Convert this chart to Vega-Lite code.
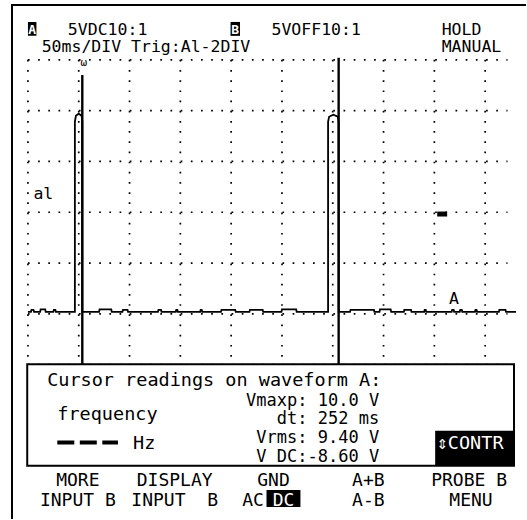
{
  "$schema": "https://vega.github.io/schema/vega-lite/v6.json",
  "width": 527,
  "height": 520,
  "autosize": {"type": "fit", "contains": "padding"},
  "padding": 0,
  "background": "white",
  "config": {"view": {"stroke": null}},
  "datasets": {
    "gridRows": [
      {"t": 0, "t2": 472, "v": -5, "v2": -5},
      {"t": 0, "t2": 472, "v": 0, "v2": 0},
      {"t": 0, "t2": 472, "v": 5, "v2": 5},
      {"t": 0, "t2": 472, "v": 10, "v2": 10},
      {"t": 0, "t2": 472, "v": 15, "v2": 15},
      {"t": 0, "t2": 472, "v": 20, "v2": 20},
      {"t": 0, "t2": 472, "v": 25, "v2": 25}
    ],
    "gridCols": [
      {"t": 0, "t2": 0, "v": 25, "v2": -5.1},
      {"t": 50, "t2": 50, "v": 25, "v2": -5.1},
      {"t": 100, "t2": 100, "v": 25, "v2": -5.1},
      {"t": 150, "t2": 150, "v": 25, "v2": -5.1},
      {"t": 200, "t2": 200, "v": 25, "v2": -5.1},
      {"t": 250, "t2": 250, "v": 25, "v2": -5.1},
      {"t": 300, "t2": 300, "v": 25, "v2": -5.1},
      {"t": 350, "t2": 350, "v": 25, "v2": -5.1},
      {"t": 400, "t2": 400, "v": 25, "v2": -5.1},
      {"t": 450, "t2": 450, "v": 25, "v2": -5.1}
    ],
    "panel": [
      {"t": -0.7, "t2": 478.4, "v": -4.96, "v2": -14.95}
    ],
    "borders": [
      {"t": -15.7, "t2": -15.7, "v": 30.5, "v2": -20.19},
      {"t": -16.7, "t2": 490.2, "v": 30.4, "v2": 30.4}
    ],
    "trace": [
      {"i": 0, "t": 0, "v": 0.2},
      {"i": 1, "t": 3, "v": 0.2},
      {"i": 2, "t": 3.5, "v": 0.4},
      {"i": 3, "t": 5.5, "v": 0.4},
      {"i": 4, "t": 6, "v": 0.2},
      {"i": 5, "t": 12, "v": 0.2},
      {"i": 6, "t": 12.5, "v": 0.45},
      {"i": 7, "t": 17, "v": 0.45},
      {"i": 8, "t": 17.5, "v": 0.2},
      {"i": 9, "t": 25, "v": 0.2},
      {"i": 10, "t": 25.5, "v": 0.4},
      {"i": 11, "t": 27, "v": 0.4},
      {"i": 12, "t": 27.5, "v": 0.2},
      {"i": 13, "t": 46.2, "v": 0.2},
      {"i": 14, "t": 46.2, "v": 18.9},
      {"i": 15, "t": 47.2, "v": 19.5},
      {"i": 16, "t": 50, "v": 19.7},
      {"i": 17, "t": 52.8, "v": 19.5},
      {"i": 18, "t": 53.5, "v": 18.9},
      {"i": 19, "t": 53.5, "v": 0.2},
      {"i": 20, "t": 70, "v": 0.2},
      {"i": 21, "t": 70.5, "v": 0.45},
      {"i": 22, "t": 82, "v": 0.45},
      {"i": 23, "t": 82.5, "v": 0.2},
      {"i": 24, "t": 93, "v": 0.2},
      {"i": 25, "t": 93.5, "v": 0.4},
      {"i": 26, "t": 98, "v": 0.4},
      {"i": 27, "t": 98.5, "v": 0.2},
      {"i": 28, "t": 128, "v": 0.2},
      {"i": 29, "t": 128.5, "v": 0.4},
      {"i": 30, "t": 131, "v": 0.4},
      {"i": 31, "t": 131.5, "v": 0.2},
      {"i": 32, "t": 145.5, "v": 0.2},
      {"i": 33, "t": 146, "v": 0.4},
      {"i": 34, "t": 147, "v": 0.4},
      {"i": 35, "t": 147.5, "v": 0.2},
      {"i": 36, "t": 169.5, "v": 0.2},
      {"i": 37, "t": 170, "v": 0.4},
      {"i": 38, "t": 171, "v": 0.4},
      {"i": 39, "t": 171.5, "v": 0.2},
      {"i": 40, "t": 190, "v": 0.2},
      {"i": 41, "t": 190.5, "v": 0.4},
      {"i": 42, "t": 204, "v": 0.4},
      {"i": 43, "t": 204.5, "v": 0.2},
      {"i": 44, "t": 218, "v": 0.2},
      {"i": 45, "t": 218.5, "v": 0.4},
      {"i": 46, "t": 231, "v": 0.4},
      {"i": 47, "t": 231.5, "v": 0.2},
      {"i": 48, "t": 249.5, "v": 0.2},
      {"i": 49, "t": 250, "v": 0.45},
      {"i": 50, "t": 264, "v": 0.45},
      {"i": 51, "t": 264.5, "v": 0.2},
      {"i": 52, "t": 295.4, "v": 0.2},
      {"i": 53, "t": 295.4, "v": 18.9},
      {"i": 54, "t": 296.4, "v": 19.4},
      {"i": 55, "t": 300.5, "v": 19.6},
      {"i": 56, "t": 305, "v": 19.4},
      {"i": 57, "t": 305.8, "v": 18.9},
      {"i": 58, "t": 305.8, "v": 0.2},
      {"i": 59, "t": 317, "v": 0.2},
      {"i": 60, "t": 317.5, "v": 0.4},
      {"i": 61, "t": 340.5, "v": 0.4},
      {"i": 62, "t": 341, "v": 0.2},
      {"i": 63, "t": 346, "v": 0.2},
      {"i": 64, "t": 346.5, "v": 0.45},
      {"i": 65, "t": 357, "v": 0.45},
      {"i": 66, "t": 357.5, "v": 0.2},
      {"i": 67, "t": 370, "v": 0.2},
      {"i": 68, "t": 370.5, "v": 0.4},
      {"i": 69, "t": 377, "v": 0.4},
      {"i": 70, "t": 377.5, "v": 0.2},
      {"i": 71, "t": 390, "v": 0.2},
      {"i": 72, "t": 390.5, "v": 0.4},
      {"i": 73, "t": 391.5, "v": 0.4},
      {"i": 74, "t": 392, "v": 0.2},
      {"i": 75, "t": 417, "v": 0.2},
      {"i": 76, "t": 417.5, "v": 0.4},
      {"i": 77, "t": 419, "v": 0.4},
      {"i": 78, "t": 419.5, "v": 0.2},
      {"i": 79, "t": 425, "v": 0.2},
      {"i": 80, "t": 425.5, "v": 0.4},
      {"i": 81, "t": 427, "v": 0.4},
      {"i": 82, "t": 427.5, "v": 0.2},
      {"i": 83, "t": 440, "v": 0.2},
      {"i": 84, "t": 440.5, "v": 0.4},
      {"i": 85, "t": 441.5, "v": 0.4},
      {"i": 86, "t": 442, "v": 0.2},
      {"i": 87, "t": 463.5, "v": 0.2},
      {"i": 88, "t": 464, "v": 0.4},
      {"i": 89, "t": 470, "v": 0.4},
      {"i": 90, "t": 470.5, "v": 0.2},
      {"i": 91, "t": 480.4, "v": 0.2}
    ],
    "cursors": [
      {"t": 53.5, "t2": 53.5, "v": 23.5, "v2": -4.96},
      {"t": 305.8, "t2": 305.8, "v": 25.2, "v2": -4.96}
    ],
    "noFreq": [
      {"t": 28.9, "t2": 88.6, "v": -12.65, "v2": -12.65}
    ],
    "blackBoxes": [
      {"t": 0, "t2": 8.35, "v": 28.73, "v2": 27.36},
      {"t": 199.4, "t2": 208.7, "v": 28.73, "v2": 27.36},
      {"t": 400.8, "t2": 478.4, "v": -11.51, "v2": -14.95},
      {"t": 234.8, "t2": 268.2, "v": -17.34, "v2": -19.0},
      {"t": 402.8, "t2": 412.6, "v": 10.07, "v2": 9.58}
    ],
    "header": [
      {"t": 39.3, "v": 27.47, "label": "5VDC10:1"},
      {"t": 239.7, "v": 27.47, "label": "5VOFF10:1"},
      {"t": 407.2, "v": 27.47, "label": "HOLD"},
      {"t": 13.5, "v": 25.73, "label": "50ms/DIV Trig:Al-2DIV"},
      {"t": 407.2, "v": 25.73, "label": "MANUAL"},
      {"t": 5.4, "v": 11.35, "label": "al"},
      {"t": 414.5, "v": 0.93, "label": "A"}
    ],
    "bigLabels": [
      {"t": 18.9, "v": -7.09, "label": "Cursor readings on waveform A:"},
      {"t": 28.9, "v": -10.41, "label": "frequency"},
      {"t": 103.5, "v": -13.31, "label": "Hz"}
    ],
    "readings": [
      {"t": 214.7, "v": -9.06, "label": "Vmaxp: 10.0 V"},
      {"t": 244.9, "v": -10.85, "label": "dt: 252 ms"},
      {"t": 224.8, "v": -12.72, "label": "Vrms: 9.40 V"},
      {"t": 224.8, "v": -14.56, "label": "V DC:-8.60 V"}
    ],
    "menu": [
      {"t": 49.1, "v": -16.92, "label": "MORE"},
      {"t": 49.1, "v": -18.88, "label": "INPUT B"},
      {"t": 144.4, "v": -16.92, "label": "DISPLAY"},
      {"t": 144.4, "v": -18.88, "label": "INPUT\u00a0\u00a0B"},
      {"t": 241.7, "v": -16.92, "label": "GND"},
      {"t": 221.5, "v": -18.88, "label": "AC"},
      {"t": 335, "v": -16.92, "label": "A+B"},
      {"t": 335, "v": -18.88, "label": "A-B"},
      {"t": 434.2, "v": -16.92, "label": "PROBE B"},
      {"t": 436.1, "v": -18.88, "label": "MENU"}
    ],
    "whiteSmall": [
      {"t": 4.2, "v": 27.55, "label": "A"},
      {"t": 204, "v": 27.55, "label": "B"}
    ],
    "whiteText": [
      {"t": 251.5, "v": -18.88, "label": "DC"}
    ],
    "whiteLeft": [
      {"t": 402.3, "v": -13.31, "label": "⇕CONTR"}
    ],
    "marker": [
      {"t": 55, "v": 24.66, "label": "ω"}
    ]
  },
  "encoding": {
    "x": {"field": "t", "type": "quantitative", "scale": {"domain": [-27.5, 490.2], "nice": false, "zero": false}, "axis": null},
    "y": {"field": "v", "type": "quantitative", "scale": {"domain": [-20.19, 30.89], "nice": false, "zero": false}, "axis": null}
  },
  "layer": [
    {
      "data": {"name": "gridRows"},
      "mark": {"type": "rule", "color": "black", "strokeWidth": 1.7, "strokeDash": [1.7, 8.48], "strokeCap": "butt"},
      "encoding": {"x2": {"field": "t2"}, "y2": {"field": "v2"}}
    },
    {
      "data": {"name": "gridCols"},
      "mark": {"type": "rule", "color": "black", "strokeWidth": 1.7, "strokeDash": [1.7, 8.48], "strokeCap": "butt"},
      "encoding": {"x2": {"field": "t2"}, "y2": {"field": "v2"}}
    },
    {
      "data": {"name": "panel"},
      "mark": {"type": "rect", "fill": "white", "stroke": "black", "strokeWidth": 2},
      "encoding": {"x2": {"field": "t2"}, "y2": {"field": "v2"}}
    },
    {
      "data": {"name": "borders"},
      "mark": {"type": "rule", "color": "black", "strokeWidth": 2},
      "encoding": {"x2": {"field": "t2"}, "y2": {"field": "v2"}}
    },
    {
      "data": {"name": "trace"},
      "mark": {"type": "line", "color": "black", "strokeWidth": 1.8, "interpolate": "linear"},
      "encoding": {"order": {"field": "i", "type": "quantitative"}}
    },
    {
      "data": {"name": "cursors"},
      "mark": {"type": "rule", "color": "black", "strokeWidth": 2.4},
      "encoding": {"x2": {"field": "t2"}, "y2": {"field": "v2"}}
    },
    {
      "data": {"name": "noFreq"},
      "mark": {"type": "rule", "color": "black", "strokeWidth": 4, "strokeDash": [17, 5.5], "strokeCap": "butt"},
      "encoding": {"x2": {"field": "t2"}, "y2": {"field": "v2"}}
    },
    {
      "data": {"name": "blackBoxes"},
      "mark": {"type": "rect", "fill": "black"},
      "encoding": {"x2": {"field": "t2"}, "y2": {"field": "v2"}}
    },
    {
      "data": {"name": "header"},
      "mark": {"type": "text", "align": "left", "baseline": "alphabetic", "font": "DejaVu Sans Mono", "fontSize": 16.5, "color": "black"},
      "encoding": {"text": {"field": "label"}}
    },
    {
      "data": {"name": "bigLabels"},
      "mark": {"type": "text", "align": "left", "baseline": "alphabetic", "font": "DejaVu Sans Mono", "fontSize": 18.5, "color": "black"},
      "encoding": {"text": {"field": "label"}}
    },
    {
      "data": {"name": "readings"},
      "mark": {"type": "text", "align": "left", "baseline": "alphabetic", "font": "DejaVu Sans Mono", "fontSize": 17, "color": "black"},
      "encoding": {"text": {"field": "label"}}
    },
    {
      "data": {"name": "menu"},
      "mark": {"type": "text", "align": "center", "baseline": "alphabetic", "font": "DejaVu Sans Mono", "fontSize": 18, "color": "black"},
      "encoding": {"text": {"field": "label"}}
    },
    {
      "data": {"name": "whiteSmall"},
      "mark": {"type": "text", "align": "center", "baseline": "alphabetic", "font": "DejaVu Sans Mono", "fontSize": 13, "fontWeight": "bold", "color": "white"},
      "encoding": {"text": {"field": "label"}}
    },
    {
      "data": {"name": "whiteText"},
      "mark": {"type": "text", "align": "center", "baseline": "alphabetic", "font": "DejaVu Sans Mono", "fontSize": 18, "color": "white"},
      "encoding": {"text": {"field": "label"}}
    },
    {
      "data": {"name": "whiteLeft"},
      "mark": {"type": "text", "align": "left", "baseline": "alphabetic", "font": "DejaVu Sans Mono", "fontSize": 18.5, "color": "white"},
      "encoding": {"text": {"field": "label"}}
    },
    {
      "data": {"name": "marker"},
      "mark": {"type": "text", "align": "center", "baseline": "middle", "font": "DejaVu Sans Mono", "fontSize": 11, "color": "black"},
      "encoding": {"text": {"field": "label"}}
    }
  ]
}
